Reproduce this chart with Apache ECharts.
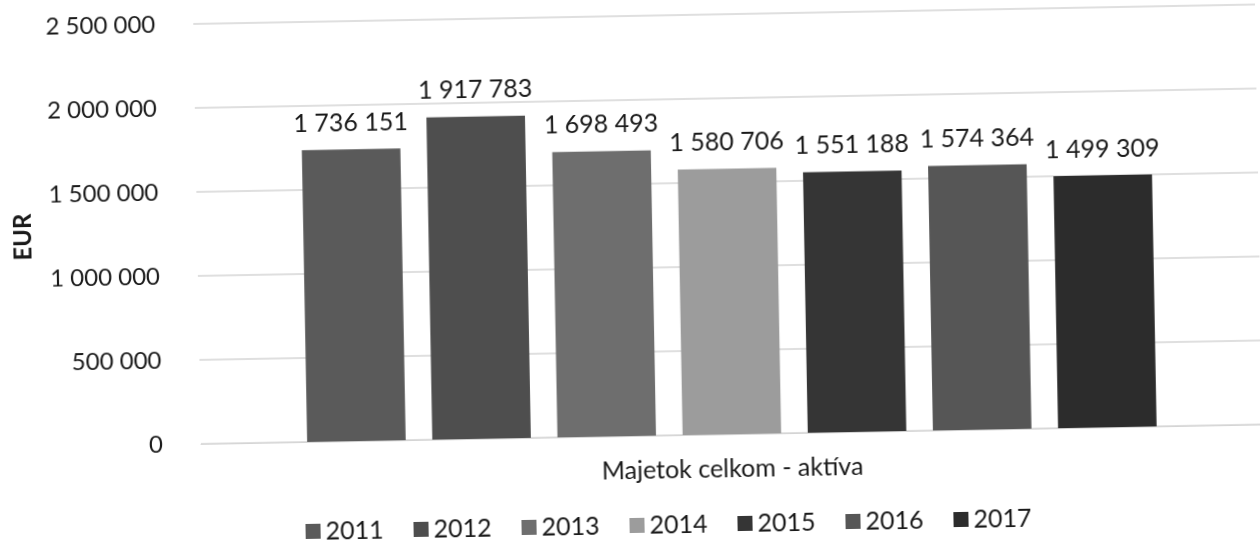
<!DOCTYPE html>
<html>
<head>
<meta charset="utf-8">
<script src="https://cdn.jsdelivr.net/npm/echarts@6/dist/echarts.min.js"></script>
<style>
  html, body { margin: 0; padding: 0; background: #fff; overflow: hidden; }
  /* the scan is tilted a little, so tilt the whole chart the same way */
  #chart { width: 1260px; height: 555px; transform: rotate(-1.05deg); }
</style>
</head>
<body>
<div id="chart"></div>
<script>
const categories = ['Majetok celkom - aktíva']
const years = ['2011', '2012', '2013', '2014', '2015', '2016', '2017']
const values = [1736151, 1917783, 1698493, 1580706, 1551188, 1574364, 1499309]
const colors = ['#5a5a5a', '#4e4e4e', '#6e6e6e', '#9c9c9c', '#353535', '#565656', '#2c2c2c']

const font = 'Lato, "Open Sans", sans-serif'

function fmt (v) {
  return String(v).replace(/\B(?=(\d{3})+(?!\d))/g, ' ')
}

const chart = echarts.init(document.getElementById('chart'))

chart.setOption({
  animation: false,
  textStyle: { fontFamily: font },
  grid: { left: 198, right: 0, top: 16, bottom: 119 },
  legend: {
    bottom: 12,
    left: 296,
    itemWidth: 15,
    itemHeight: 15,
    itemGap: 30,
    icon: 'rect',
    textStyle: { fontSize: 25, color: '#1a1a1a', fontFamily: font }
  },
  xAxis: {
    type: 'category',
    data: categories,
    axisLine: { lineStyle: { color: '#d4d4d4' } },
    axisTick: { show: false },
    axisLabel: { fontSize: 25, color: '#1a1a1a', margin: 22 }
  },
  yAxis: {
    type: 'value',
    min: 0,
    max: 2500000,
    interval: 500000,
    name: 'EUR',
    nameLocation: 'middle',
    nameGap: 162,
    nameTextStyle: { fontSize: 24, fontWeight: 'bold', color: '#1a1a1a' },
    axisLine: { show: false },
    axisTick: { show: false },
    splitLine: { lineStyle: { color: '#d4d4d4', width: 1.5 } },
    axisLabel: { fontSize: 24, color: '#1a1a1a', margin: 38, formatter: fmt }
  },
  series: years.map((y, i) => ({
    name: y,
    type: 'bar',
    data: [values[i]],
    barGap: '27%',
    barCategoryGap: '20%',
    itemStyle: { color: colors[i] },
    label: {
      show: true,
      position: 'top',
      distance: 14,
      fontSize: 25,
      color: '#1a1a1a',
      formatter: p => fmt(p.value)
    }
  }))
})
</script>
</body>
</html>
